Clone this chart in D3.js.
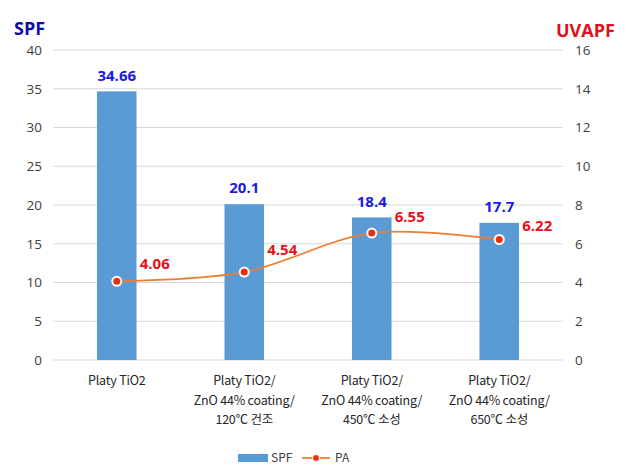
<!DOCTYPE html>
<html><head><meta charset="utf-8">
<script src="https://cdn.jsdelivr.net/npm/d3@7"></script>
<style>
body{margin:0;background:#fff;}
svg{display:block;font-family:"Malgun Gothic","Noto Sans CJK KR","Open Sans",sans-serif;}
</style></head><body>
<div id="chart"></div>
<script>
const categories = [
  ["Platy TiO2"],
  ["Platy TiO2/", "ZnO 44% coating/", "120℃ 건조"],
  ["Platy TiO2/", "ZnO 44% coating/", "450℃ 소성"],
  ["Platy TiO2/", "ZnO 44% coating/", "650℃ 소성"]
];
const spfValues = [34.66, 20.1, 18.4, 17.7];
const paValues = [4.06, 4.54, 6.55, 6.22];
const leftTicks = [0, 5, 10, 15, 20, 25, 30, 35, 40];
const rightTicks = [0, 2, 4, 6, 8, 10, 12, 14, 16];
const seriesNames = ["SPF", "PA"];

// label nudges (layout only)
const paLabelDy = [-18, -22, -16, -14];

const W = 638, H = 472;
const m = {left: 53, right: 75, top: 50, bottom: 112};
const svg = d3.select("#chart").append("svg").attr("width", W).attr("height", H);

const x = d3.scaleBand().domain(d3.range(categories.length)).range([m.left, W - m.right]).paddingInner(0.69).paddingOuter(0.345);
const yL = d3.scaleLinear().domain([0, 40]).range([H - m.bottom, m.top]);
const yR = d3.scaleLinear().domain([0, 16]).range([H - m.bottom, m.top]);

// gridlines
svg.append("g").selectAll("line").data(leftTicks).join("line")
  .attr("x1", m.left).attr("x2", W - m.right)
  .attr("y1", d => yL(d)).attr("y2", d => yL(d))
  .attr("stroke", "#d9d9d9").attr("stroke-width", 1);

// left axis
const axL = svg.append("g").attr("transform", `translate(${m.left},0)`)
  .call(d3.axisLeft(yL).tickValues(leftTicks).tickSize(0).tickPadding(11));
axL.select(".domain").remove();
axL.selectAll("text").attr("font-size", 13.5).attr("fill", "#404040").attr("font-family", "Open Sans, sans-serif");

// right axis
const axR = svg.append("g").attr("transform", `translate(${W - m.right},0)`)
  .call(d3.axisRight(yR).tickValues(rightTicks).tickSize(0).tickPadding(12));
axR.select(".domain").remove();
axR.selectAll("text").attr("font-size", 13.5).attr("fill", "#404040").attr("font-family", "Open Sans, sans-serif");

// bars
svg.append("g").selectAll("rect").data(spfValues).join("rect")
  .attr("x", (d, i) => x(i)).attr("width", x.bandwidth())
  .attr("y", d => yL(d)).attr("height", d => yL(0) - yL(d))
  .attr("fill", "#5b9bd5");

// bar labels
svg.append("g").selectAll("text").data(spfValues).join("text")
  .attr("x", (d, i) => x(i) + x.bandwidth() / 2)
  .attr("y", d => yL(d) - 16)
  .attr("dy", "0.35em")
  .attr("text-anchor", "middle")
  .attr("font-size", 15).attr("font-weight", "bold").attr("fill", "#1a1ae0")
  .attr("font-family", "Open Sans, sans-serif")
  .text(d => d);

// line
const cx = i => x(i) + x.bandwidth() / 2;
const line = d3.line().x((d, i) => cx(i)).y(d => yR(d)).curve(d3.curveCatmullRom);
svg.append("path").datum(paValues).attr("d", line)
  .attr("fill", "none").attr("stroke", "#ed7d31").attr("stroke-width", 1.75);

svg.append("g").selectAll("circle").data(paValues).join("circle")
  .attr("cx", (d, i) => cx(i)).attr("cy", d => yR(d)).attr("r", 4.5)
  .attr("fill", "#e8300f").attr("stroke", "#fff").attr("stroke-width", 2);

svg.append("g").selectAll("text").data(paValues).join("text")
  .attr("x", (d, i) => cx(i) + 23)
  .attr("y", (d, i) => yR(d) + paLabelDy[i])
  .attr("dy", "0.35em")
  .attr("font-size", 15).attr("font-weight", "bold").attr("fill", "#e8101a")
  .attr("font-family", "Open Sans, sans-serif")
  .text(d => d.toFixed(2));

// category labels
const catG = svg.append("g");
categories.forEach((lines, i) => {
  const t = catG.append("text").attr("text-anchor", "middle")
    .attr("font-size", 12.5).attr("letter-spacing", "-0.2px").attr("fill", "#262626");
  lines.forEach((l, j) => {
    t.append("tspan").attr("x", cx(i)).attr("y", 385 + j * 19.5).text(l);
  });
});

// axis titles
svg.append("text").attr("x", 14).attr("y", 35).text("SPF")
  .attr("font-size", 18).attr("font-weight", "bold").attr("fill", "#0c0ca8")
  .attr("font-family", "Open Sans, sans-serif");
svg.append("text").attr("x", 556).attr("y", 37).text("UVAPF")
  .attr("font-size", 18).attr("font-weight", "bold").attr("fill", "#e0101a")
  .attr("font-family", "Open Sans, sans-serif");

// legend
const lg = svg.append("g");
lg.append("rect").attr("x", 238).attr("y", 454).attr("width", 30).attr("height", 8).attr("fill", "#5b9bd5");
lg.append("text").attr("x", 271).attr("y", 458).attr("dy", "0.35em").attr("font-size", 12).attr("fill", "#404040").text(seriesNames[0]);
lg.append("line").attr("x1", 302).attr("x2", 330).attr("y1", 458).attr("y2", 458).attr("stroke", "#ed7d31").attr("stroke-width", 1.75);
lg.append("circle").attr("cx", 316).attr("cy", 458).attr("r", 3.5).attr("fill", "#e8300f").attr("stroke", "#fff").attr("stroke-width", 1);
lg.append("text").attr("x", 335).attr("y", 458).attr("dy", "0.35em").attr("font-size", 12).attr("fill", "#404040").text(seriesNames[1]);
</script>
</body></html>
